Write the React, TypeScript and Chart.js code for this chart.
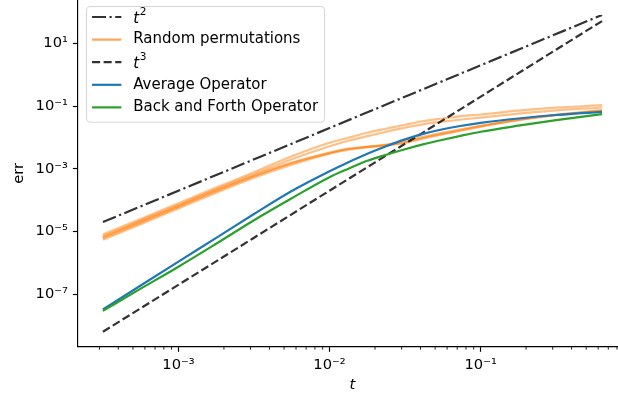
import React, { useEffect, useRef } from 'react';
import { Chart, registerables } from 'chart.js';

Chart.register(...registerables);

const FONT = "'DejaVu Sans', 'Liberation Sans', sans-serif";

// ---- data ----
const tValues = [
  3.162e-4, 5.623e-4, 1.0e-3, 1.778e-3, 3.162e-3, 5.623e-3, 1.0e-2, 1.334e-2, 1.778e-2,
  2.371e-2, 3.162e-2, 4.217e-2, 5.623e-2, 7.499e-2, 1.0e-1, 1.778e-1, 3.162e-1, 6.368e-1,
];

const averageOperator = [
  3.25e-8, 1.89e-7, 1.09e-6, 6.25e-6, 3.61e-5, 1.96e-4, 8.37e-4, 1.63e-3, 3.03e-3,
  5.26e-3, 8.67e-3, 1.32e-2, 1.83e-2, 2.37e-2, 2.91e-2, 4.02e-2, 5.2e-2, 6.53e-2,
];

const backAndForthOperator = [
  2.93e-8, 1.5e-7, 7.53e-7, 4.08e-6, 2.29e-5, 1.15e-4, 5.4e-4, 1.01e-3, 1.81e-3,
  2.82e-3, 4.22e-3, 6.1e-3, 8.47e-3, 1.15e-2, 1.52e-2, 2.37e-2, 3.55e-2, 5.52e-2,
];

const randomPermutation1 = [
  8.02e-6, 2.52e-5, 8.0e-5, 2.51e-4, 7.8e-4, 2.52e-3, 6.81e-3, 9.82e-3, 1.41e-2,
  1.9e-2, 2.55e-2, 3.35e-2, 4.02e-2, 4.76e-2, 5.4e-2, 7.13e-2, 8.89e-2, 1.07e-1,
];
const randomPermutation2 = [
  7.08e-6, 2.23e-5, 7.05e-5, 2.23e-4, 6.73e-4, 2.02e-3, 5.26e-3, 7.87e-3, 1.1e-2,
  1.52e-2, 2.05e-2, 2.65e-2, 3.18e-2, 3.74e-2, 4.27e-2, 5.73e-2, 7.29e-2, 9.02e-2,
];
const randomPermutation3 = [
  6.11e-6, 1.92e-5, 6.1e-5, 1.93e-4, 5.81e-4, 1.51e-3, 3.27e-3, 4.38e-3, 5.07e-3,
  5.66e-3, 7.05e-3, 9.82e-3, 1.32e-2, 1.73e-2, 2.29e-2, 3.68e-2, 5.32e-2, 7.4e-2,
];
const randomPermutation4 = [
  5.47e-6, 1.72e-5, 5.46e-5, 1.73e-4, 5.2e-4, 1.35e-3, 3.03e-3, 4.06e-3, 4.89e-3,
  5.87e-3, 7.71e-3, 1.06e-2, 1.42e-2, 1.86e-2, 2.37e-2, 3.68e-2, 5.2e-2, 6.87e-2,
];
const randomPermutation5 = [
  6.58e-6, 2.07e-5, 6.56e-5, 2.07e-4, 6.03e-4, 1.57e-3, 3.19e-3, 4.29e-3, 4.95e-3,
  5.57e-3, 6.81e-3, 9.46e-3, 1.27e-2, 1.67e-2, 2.2e-2, 3.55e-2, 5.13e-2, 7.13e-2,
];

const referenceT = [3.162e-4, 6.368e-1];
const tSquaredRef = [2.0e-5, 81.1];
const tCubedRef = [6.32e-9, 51.6];

// ---- axes ----
const xRange = [2.163e-4, 0.931];
const yRange = [2.113e-9, 242.7];
const xMajorTicks = [1e-3, 1e-2, 1e-1];
const xTickLabels = ['10⁻³', '10⁻²', '10⁻¹'];
const yMajorTicks = [1e-7, 1e-5, 1e-3, 1e-1, 1e1];
const yTickLabels = ['10⁻⁷', '10⁻⁵', '10⁻³', '10⁻¹', '10¹'];
const minorMantissas = [2, 3, 4, 5, 6, 7, 8, 9];
const minorDecades = [-4, -3, -2, -1, 0];

const FS = 14.7;
const LEGEND_FS = 15;
const LW = 2.2;
const ORANGE = 'rgba(255,127,14,0.5)';
const ORANGE_LEGEND = 'rgba(255,127,14,0.7)';
const BLUE = '#1f77b4';
const GREEN = '#2ca02c';
const BLACK = 'rgba(0,0,0,0.8)';
const DASHED = [8.1, 3.5];
const DASHDOT = [14, 3.5, 2.2, 3.5];

const minorTicksPlugin = {
  id: 'minorTicks',
  afterDraw(chart: any) {
    const xs = chart.scales.x;
    const ctx = chart.ctx;
    ctx.save();
    ctx.strokeStyle = '#000';
    ctx.lineWidth = 0.875;
    for (const k of minorDecades) {
      for (const m of minorMantissas) {
        const v = m * Math.pow(10, k);
        if (v < xs.min || v > xs.max) continue;
        const px = xs.getPixelForValue(v);
        ctx.beginPath();
        ctx.moveTo(px, xs.top);
        ctx.lineTo(px, xs.top + 2.9);
        ctx.stroke();
      }
    }
    ctx.restore();
  },
};

const innerLegendPlugin = {
  id: 'innerLegend',
  afterDraw(chart: any) {
    const ctx = chart.ctx;
    const area = chart.chartArea;
    const items = chart.data.datasets.filter((d: any) => d.label);
    const font = `${LEGEND_FS}px ${FONT}`;
    const italic = `italic ${LEGEND_FS}px ${FONT}`;
    const supFont = `${LEGEND_FS * 0.7}px ${FONT}`;
    ctx.save();
    ctx.font = font;
    let maxW = 0;
    for (const it of items) {
      const w = ctx.measureText(it.label).width;
      if (w > maxW) maxW = w;
    }
    const left = area.left + 8;
    const top = area.top + 6;
    const handleX0 = left + 6;
    const handleX1 = handleX0 + 2 * FS;
    const textX = handleX1 + 0.8 * FS;
    const rowGap = 22.6;
    const firstRow = top + 11;
    const right = textX + maxW + 6;
    const bottom = firstRow + rowGap * (items.length - 1) + 14.3;

    ctx.beginPath();
    ctx.roundRect(left + 0.5, top + 0.5, right - left, bottom - top, 3.5);
    ctx.fillStyle = 'rgba(255,255,255,0.8)';
    ctx.fill();
    ctx.strokeStyle = 'rgba(204,204,204,0.8)';
    ctx.lineWidth = 1;
    ctx.stroke();

    items.forEach((it: any, i: number) => {
      const y = firstRow + i * rowGap;
      ctx.beginPath();
      ctx.setLineDash(it.borderDash || []);
      ctx.strokeStyle = it.legendColor || it.borderColor;
      ctx.lineWidth = LW;
      ctx.lineCap = 'butt';
      ctx.moveTo(handleX0, y);
      ctx.lineTo(handleX1, y);
      ctx.stroke();
      ctx.setLineDash([]);
      ctx.fillStyle = '#000';
      ctx.textBaseline = 'middle';
      ctx.textAlign = 'left';
      const m = /^t([²³])$/.exec(it.label);
      if (m) {
        ctx.font = italic;
        ctx.fillText('t', textX, y + 2);
        const tw = ctx.measureText('t').width;
        ctx.font = supFont;
        ctx.fillText(m[1] === '²' ? '2' : '3', textX + tw + 0.8, y - 4.5);
      } else {
        ctx.font = font;
        ctx.fillText(it.label, textX, y);
      }
    });
    ctx.restore();
  },
};

function series(label: string, xs: number[], ys: number[], color: string, order: number, dash: number[] = [], extra: any = {}) {
  return {
    label,
    data: xs.map((x, i) => ({ x, y: ys[i] })),
    borderColor: color,
    backgroundColor: color,
    borderWidth: LW,
    borderDash: dash,
    pointRadius: 0,
    pointHoverRadius: 0,
    fill: false,
    order,
    cubicInterpolationMode: 'monotone',
    ...extra,
  };
}

export default function App() {
  const ref = useRef<HTMLCanvasElement>(null);

  useEffect(() => {
    const canvas = ref.current;
    if (!canvas) return;
    const tickFont = { family: FONT, size: FS };
    const chart = new Chart(canvas, {
      type: 'line',
      data: {
        datasets: [
          series('t²', referenceT, tSquaredRef, BLACK, 9, DASHDOT),
          series('Random permutations', tValues, randomPermutation1, ORANGE, 8, [], { legendColor: ORANGE_LEGEND }),
          series('', tValues, randomPermutation2, ORANGE, 7),
          series('', tValues, randomPermutation3, ORANGE, 6),
          series('', tValues, randomPermutation4, ORANGE, 5),
          series('', tValues, randomPermutation5, ORANGE, 4),
          series('t³', referenceT, tCubedRef, BLACK, 3, DASHED),
          series('Average Operator', tValues, averageOperator, BLUE, 2),
          series('Back and Forth Operator', tValues, backAndForthOperator, GREEN, 1),
        ] as any,
      },
      options: {
        animation: false,
        responsive: false,
        devicePixelRatio: 1,
        events: [],
        layout: { padding: 0, autoPadding: false } as any,
        plugins: {
          legend: { display: false },
          tooltip: { enabled: false },
        },
        scales: {
          x: {
            type: 'logarithmic',
            position: 'bottom',
            min: xRange[0],
            max: xRange[1],
            afterBuildTicks: (s: any) => {
              s.ticks = xMajorTicks.map((v) => ({ value: v }));
            },
            afterFit: (s: any) => {
              s.height = 51.3;
              s.paddingLeft = 0;
              s.paddingRight = 0;
            },
            ticks: {
              autoSkip: false,
              maxRotation: 0,
              padding: 4.5,
              color: '#000',
              font: tickFont,
              callback: (_v: any, i: number) => xTickLabels[i],
            },
            grid: { drawOnChartArea: false, drawTicks: true, tickLength: 5.1, tickWidth: 1.17, tickColor: '#000' },
            border: { display: true, color: '#000', width: 1.17 },
            title: {
              display: true,
              text: 't',
              color: '#000',
              font: { family: FONT, size: FS, style: 'italic' },
              padding: { top: 0, bottom: 4.2 },
            },
          },
          y: {
            type: 'logarithmic',
            position: 'left',
            min: yRange[0],
            max: yRange[1],
            afterBuildTicks: (s: any) => {
              s.ticks = yMajorTicks.map((v) => ({ value: v }));
            },
            afterFit: (s: any) => {
              s.width = 78;
              s.paddingTop = 0;
              s.paddingBottom = 0;
            },
            ticks: {
              autoSkip: false,
              padding: 5,
              color: '#000',
              font: tickFont,
              callback: (_v: any, i: number) => yTickLabels[i],
            },
            grid: { drawOnChartArea: false, drawTicks: true, tickLength: 5.1, tickWidth: 1.17, tickColor: '#000' },
            border: { display: true, color: '#000', width: 1.17 },
            title: {
              display: true,
              text: 'err',
              color: '#000',
              font: { family: FONT, size: FS },
              padding: { top: 10.2, bottom: 0 },
            },
          },
        },
      } as any,
      plugins: [minorTicksPlugin, innerLegendPlugin],
    });
    return () => chart.destroy();
  }, []);

  return (
    <div
      style={{
        position: 'fixed',
        left: 0,
        top: 0,
        width: 618,
        height: 398,
        overflow: 'hidden',
        background: '#fff',
      }}
    >
      <canvas ref={ref} width={627} height={398} style={{ display: 'block', width: 627, height: 398 }} />
    </div>
  );
}
